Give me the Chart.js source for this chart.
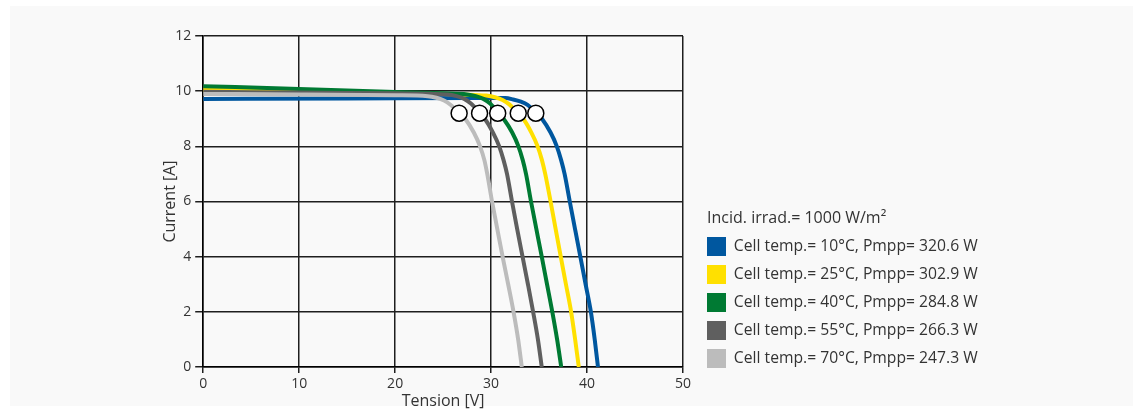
<!DOCTYPE html>
<html>
<head>
<meta charset="utf-8">
<script src="https://cdn.jsdelivr.net/npm/chart.js@4.4.1/dist/chart.umd.min.js"></script>
<style>
  html, body { margin: 0; padding: 0; background: #ffffff; }
  #panel { position: absolute; left: 10px; top: 6px; width: 1123px; height: 400px; background: #f9f9f9; }
  #wrap { position: absolute; left: 0; top: 0; width: 1143px; height: 411px; }
</style>
</head>
<body>
<div id="panel"></div>
<div id="wrap"><canvas id="c" width="1143" height="411"></canvas></div>
<script>
// ---- data ----
const seriesLabels = [
  'Cell temp.= 10°C, Pmpp= 320.6 W',
  'Cell temp.= 25°C, Pmpp= 302.9 W',
  'Cell temp.= 40°C, Pmpp= 284.8 W',
  'Cell temp.= 55°C, Pmpp= 266.3 W',
  'Cell temp.= 70°C, Pmpp= 247.3 W'
];
const legendTitle = 'Incid. irrad.= 1000 W/m²';

// Tension [V] / Current [A] for each cell temperature
const v10 = [0, 15, 28, 31.5, 32.3, 33.1, 33.8, 34.75, 35.3, 36.2, 36.85, 37.3, 37.66, 38.2, 38.75, 39.3, 39.85, 40.4, 40.8, 41.14];
const i10 = [9.72, 9.73, 9.75, 9.75, 9.7, 9.62, 9.5, 9.2, 9.0, 8.5, 8.0, 7.5, 7.0, 6.0, 5.0, 4.0, 3.0, 2.0, 1.0, 0];

const v25 = [0, 10, 20, 27, 29.5, 30.4, 31.2, 31.9, 32.8, 33.35, 34.2, 34.85, 35.3, 35.64, 36.2, 36.73, 37.26, 37.8, 38.34, 38.76, 39.14];
const i25 = [10.05, 10.0, 9.93, 9.88, 9.84, 9.78, 9.68, 9.52, 9.2, 9.0, 8.5, 8.0, 7.5, 7.0, 6.0, 5.0, 4.0, 3.0, 2.0, 1.0, 0];

const v40 = [0, 10, 20, 25, 27.5, 28.4, 29.2, 29.9, 30.8, 31.3, 32.2, 32.85, 33.3, 33.64, 34.16, 34.72, 35.28, 35.83, 36.38, 36.88, 37.31];
const i40 = [10.18, 10.08, 9.97, 9.92, 9.88, 9.82, 9.72, 9.55, 9.2, 9.0, 8.5, 8.0, 7.5, 7.0, 6.0, 5.0, 4.0, 3.0, 2.0, 1.0, 0];

const v55 = [0, 10, 20, 25.5, 26.4, 27.2, 27.9, 28.85, 29.35, 30.2, 30.85, 31.3, 31.66, 32.18, 32.72, 33.28, 33.84, 34.38, 34.88, 35.28];
const i55 = [9.98, 9.95, 9.92, 9.88, 9.82, 9.72, 9.55, 9.2, 9.0, 8.5, 8.0, 7.5, 7.0, 6.0, 5.0, 4.0, 3.0, 2.0, 1.0, 0];

const v70 = [0, 10, 20, 23.4, 24.3, 25.1, 25.8, 26.75, 27.3, 28.2, 28.85, 29.3, 29.6, 30.1, 30.65, 31.2, 31.78, 32.34, 32.82, 33.2];
const i70 = [9.9, 9.88, 9.85, 9.82, 9.76, 9.66, 9.5, 9.2, 9.0, 8.5, 8.0, 7.5, 7.0, 6.0, 5.0, 4.0, 3.0, 2.0, 1.0, 0];

// maximum power points
const mppV = [34.66, 32.83, 30.69, 28.8, 26.67];
const mppI = [9.2, 9.2, 9.2, 9.2, 9.2];

const xTicks = [0, 10, 20, 30, 40, 50];
const yTicks = [0, 2, 4, 6, 8, 10, 12];

const colors = ['#00579f', '#ffe000', '#007a33', '#5f5f5f', '#bcbcbc'];

// ---- build chart ----
const curves = [[v10, i10], [v25, i25], [v40, i40], [v55, i55], [v70, i70]];
const pts = (xs, ys) => xs.map((x, k) => ({ x: x, y: ys[k] }));

const datasets = curves.map((c, k) => ({
  label: seriesLabels[k],
  data: pts(c[0], c[1]),
  borderColor: colors[k],
  backgroundColor: colors[k],
  borderWidth: 4,
  pointRadius: 0,
  fill: false,
  showLine: true,
  cubicInterpolationMode: 'monotone',
  order: 5 - k
}));
datasets.push({
  label: 'MPP',
  data: pts(mppV, mppI),
  showLine: false,
  pointRadius: 8,
  pointBackgroundColor: '#ffffff',
  pointBorderColor: '#000000',
  pointBorderWidth: 1.5,
  order: -1
});

const FONT = "'Open Sans', 'Noto Sans', sans-serif";
const TXT = '#333333';
const GRID = '#1e1e1e';

const placeLegend = {
  id: 'placeLegend',
  afterLayout(chart) {
    const lg = chart.legend;
    if (!lg) return;
    lg.left = chart.chartArea.right + 15;
    lg.right = 1140;
    lg.width = lg.right - lg.left;
    lg.top -= 36;
    lg.bottom -= 36;
    if (!lg._titlePatched) {
      const orig = lg.drawTitle;
      lg.drawTitle = function () {
        this.ctx.save();
        this.ctx.translate(9, 0);
        orig.call(this);
        this.ctx.restore();
      };
      lg._titlePatched = true;
    }
  }
};

new Chart(document.getElementById('c'), {
  type: 'scatter',
  data: { datasets },
  options: {
    responsive: false,
    animation: false,
    layout: { padding: { left: 158, top: 36, right: 360, bottom: -2 } },
    plugins: {
      tooltip: { enabled: false },
      legend: {
        position: 'right',
        align: 'end',
        maxWidth: 100,
        title: {
          display: true,
          text: legendTitle,
          color: TXT,
          font: { family: FONT, size: 16 },
          padding: { top: 0, bottom: -2 },
          position: 'start'
        },
        labels: {
          boxWidth: 19,
          boxHeight: 19,
          padding: 9,
          color: TXT,
          font: { family: FONT, size: 15.7 },
          generateLabels: (chart) => chart.data.datasets.slice(0, 5).map((d, k) => ({
            text: d.label,
            fillStyle: colors[k],
            strokeStyle: colors[k],
            lineWidth: 0,
            fontColor: TXT,
            datasetIndex: k,
            hidden: false
          }))
        }
      }
    },
    scales: {
      x: {
        type: 'linear',
        min: 0, max: 50,
        afterBuildTicks: (s) => { s.ticks = xTicks.map(v => ({ value: v })); },
        ticks: { color: TXT, font: { family: FONT, size: 14 }, padding: 3 },
        grid: { color: GRID, lineWidth: 1.5, tickLength: 6, tickColor: GRID },
        border: { color: '#000', width: 1.5 },
        title: { display: true, text: 'Tension [V]', color: TXT, font: { family: FONT, size: 16 }, padding: { top: -4, bottom: 2 } }
      },
      y: {
        type: 'linear',
        min: 0, max: 12,
        afterBuildTicks: (s) => { s.ticks = yTicks.map(v => ({ value: v })); },
        ticks: { color: TXT, font: { family: FONT, size: 14 }, padding: 4 },
        grid: { color: GRID, lineWidth: 1.5, tickLength: 8, tickColor: GRID },
        border: { color: '#000', width: 1.5 },
        title: { display: true, text: 'Current [A]', color: TXT, font: { family: FONT, size: 16 }, padding: { top: 3, bottom: -9 } }
      }
    }
  },
  plugins: [placeLegend]
});
</script>
</body>
</html>
